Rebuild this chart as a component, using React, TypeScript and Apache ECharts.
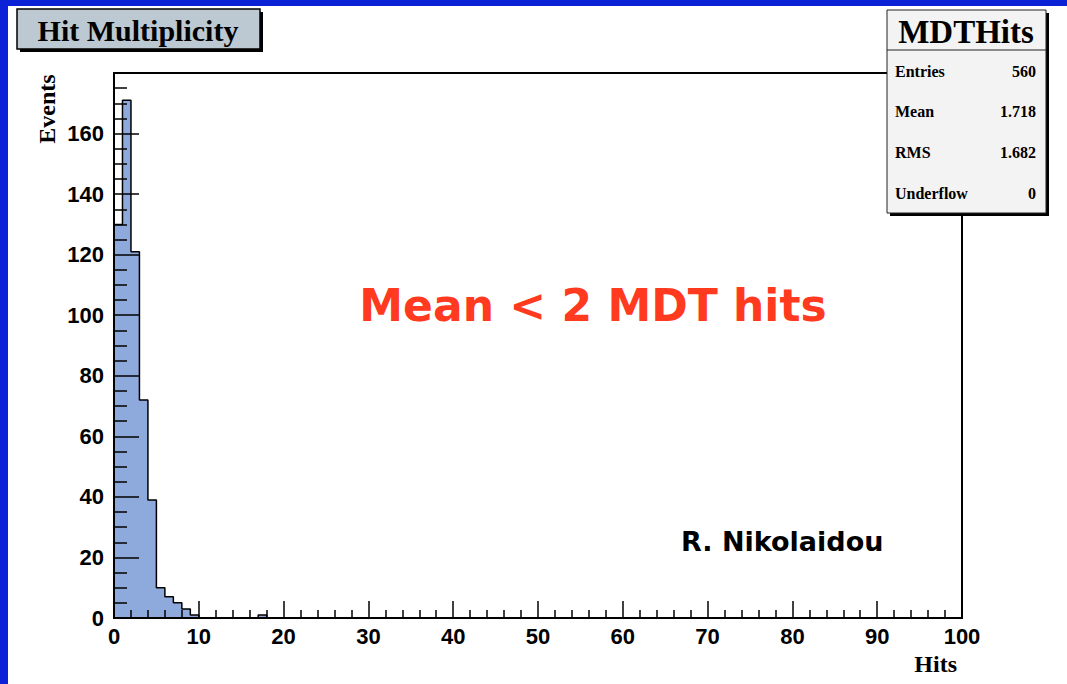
import React, { useEffect, useRef } from "react";
import * as echarts from "echarts";

// ---- data ----
const binLowEdges = [0, 1, 2, 3, 4, 5, 6, 7, 8, 9, 17];
const binCounts = [130, 171, 121, 72, 39, 10, 7, 5, 3, 1, 1];
const numBins = 100;
const xMin = 0;
const xMax = 100;
const xTickStep = 10;
const yMin = 0;
const yMax = 180;
const yTickStep = 20;
const histTitle = "Hit Multiplicity";
const statsTitle = "MDTHits";
const statsLabels = ["Entries", "Mean", "RMS", "Underflow"];
const statsValues = ["560", "1.718", "1.682", "0"];
const xAxisTitle = "Hits";
const yAxisTitle = "Events";
const noteText = "Mean < 2 MDT hits";
const authorText = "R. Nikolaidou";

const BLUE = "#0B22D6";
const FILL = "#8EAADC";
const SERIF = '"Liberation Serif", "Times New Roman", serif';
const SANS = '"Liberation Sans", Arial, sans-serif';

export default function App() {
  const ref = useRef<HTMLDivElement>(null);

  useEffect(() => {
    if (!ref.current) return;
    const chart = echarts.init(ref.current, undefined, { renderer: "svg" });

    const full: number[] = new Array(numBins).fill(0);
    binLowEdges.forEach((e, i) => {
      full[e] = binCounts[i];
    });
    const pts: number[][] = [];
    for (let i = 0; i < numBins; i++) {
      pts.push([i, full[i]]);
      pts.push([i + 1, full[i]]);
    }

    const statsRowY = [71, 111, 152, 193];

    const graphics: any[] = [
      { type: "rect", shape: { x: 0, y: 0, width: 1067, height: 6 }, style: { fill: BLUE }, z: 100 },
      { type: "rect", shape: { x: 0, y: 0, width: 8, height: 684 }, style: { fill: BLUE }, z: 100 },
      // title box
      { type: "rect", shape: { x: 20, y: 12, width: 243, height: 40 }, style: { fill: "#000" }, z: 50 },
      { type: "rect", shape: { x: 17, y: 9, width: 243, height: 40 }, style: { fill: "#BCC8D2", stroke: "#000", lineWidth: 1.5 }, z: 51 },
      {
        type: "text", x: 138, y: 30, z: 52,
        style: { text: histTitle, font: `bold 30px ${SERIF}`, fill: "#000", textAlign: "center", textVerticalAlign: "middle" },
      },
      // stats box
      { type: "rect", shape: { x: 890, y: 13, width: 159, height: 203 }, style: { fill: "#000" }, z: 50 },
      { type: "rect", shape: { x: 887, y: 10, width: 159, height: 203 }, style: { fill: "#F3F3F3", stroke: "#222", lineWidth: 1 }, z: 51 },
      { type: "line", shape: { x1: 887, y1: 50, x2: 1046, y2: 50 }, style: { stroke: "#222", lineWidth: 1 }, z: 52 },
      {
        type: "text", x: 966, y: 32, z: 52,
        style: { text: statsTitle, font: `bold 33px ${SERIF}`, fill: "#000", textAlign: "center", textVerticalAlign: "middle" },
      },
      // axis titles
      {
        type: "text", x: 47, y: 109, rotation: Math.PI / 2, z: 52,
        style: { text: yAxisTitle, font: `bold 24px ${SERIF}`, fill: "#000", textAlign: "center", textVerticalAlign: "middle" },
      },
      {
        type: "text", x: 957, y: 664, z: 52,
        style: { text: xAxisTitle, font: `bold 24px ${SERIF}`, fill: "#000", textAlign: "right", textVerticalAlign: "middle" },
      },
      // annotations
      {
        type: "text", x: 593, y: 305, z: 52,
        style: { text: noteText, font: `bold 44px "Comic Sans MS", "DejaVu Sans", sans-serif`, fill: "#FF3A1E", textAlign: "center", textVerticalAlign: "middle" },
      },
      {
        type: "text", x: 681, y: 541, z: 52,
        style: { text: authorText, font: `bold 27px "Comic Sans MS", "DejaVu Sans", sans-serif`, fill: "#000", textAlign: "left", textVerticalAlign: "middle" },
      },
    ];
    statsLabels.forEach((lab, i) => {
      graphics.push({
        type: "text", x: 895, y: statsRowY[i], z: 52,
        style: { text: lab, font: `bold 16px ${SERIF}`, fill: "#000", textAlign: "left", textVerticalAlign: "middle" },
      });
      graphics.push({
        type: "text", x: 1036, y: statsRowY[i], z: 52,
        style: { text: statsValues[i], font: `bold 16px ${SERIF}`, fill: "#000", textAlign: "right", textVerticalAlign: "middle" },
      });
    });

    chart.setOption({
      animation: false,
      backgroundColor: "#fff",
      grid: {
        left: 114, right: 105, top: 73, bottom: 66,
        show: true, borderColor: "#000", borderWidth: 2, backgroundColor: "#fff",
      },
      xAxis: {
        type: "value", min: xMin, max: xMax, interval: xTickStep, z: 3,
        axisLine: { show: true, onZero: false, lineStyle: { color: "#000", width: 2 } },
        axisTick: { show: true, inside: true, length: 17, lineStyle: { color: "#000", width: 1.5 } },
        minorTick: { show: true, splitNumber: 5, length: 8, lineStyle: { color: "#000", width: 1.5 } },
        splitLine: { show: false },
        axisLabel: { color: "#000", fontSize: 22, fontWeight: "bold", fontFamily: SANS, margin: 7 },
      },
      yAxis: {
        type: "value", min: yMin, max: yMax, interval: yTickStep, z: 3,
        axisLine: { show: true, onZero: false, lineStyle: { color: "#000", width: 2 } },
        axisTick: { show: true, inside: true, length: 25, lineStyle: { color: "#000", width: 1.5 } },
        minorTick: { show: true, splitNumber: 4, length: 13, lineStyle: { color: "#000", width: 1.5 } },
        splitLine: { show: false },
        axisLabel: {
          color: "#000", fontSize: 22, fontWeight: "bold", fontFamily: SANS, margin: 10,
          formatter: (v: number) => (v >= yMax ? "" : String(v)),
        },
      },
      series: [
        {
          type: "line", data: pts, symbol: "none", z: 2,
          lineStyle: { color: "#000", width: 1.5 },
          areaStyle: { color: FILL, opacity: 1 },
        },
      ],
      graphic: graphics,
    });

    return () => chart.dispose();
  }, []);

  return (
    <div
      ref={ref}
      style={{ position: "absolute", left: 0, top: 0, width: 1067, height: 684, background: "#fff" }}
    />
  );
}
